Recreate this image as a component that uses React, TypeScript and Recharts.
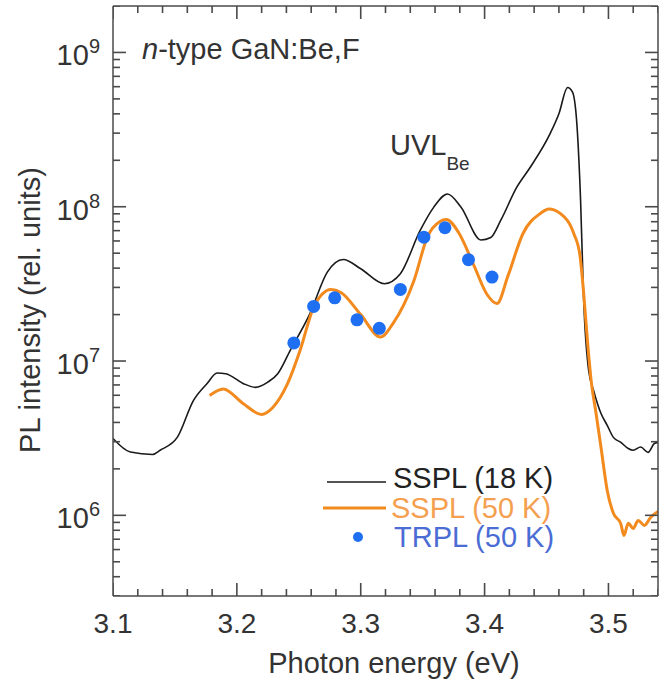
import React from "react";
import { ComposedChart, Line, Scatter, XAxis, YAxis } from "recharts";

// Steady-state PL at 18 K
const ssplEnergy18K = [
  3.1, 3.114, 3.132, 3.138, 3.152, 3.165, 3.176, 3.184, 3.191, 3.205, 3.215, 3.225,
  3.233, 3.243, 3.259, 3.273, 3.286, 3.3, 3.319, 3.332, 3.348, 3.359, 3.37, 3.381,
  3.397, 3.405, 3.413, 3.426, 3.437, 3.453, 3.46, 3.467, 3.471, 3.475, 3.4775, 3.48,
  3.484, 3.488, 3.494, 3.499, 3.504, 3.51, 3.516, 3.52, 3.526, 3.532, 3.537, 3.54,
];
const ssplIntensity18K = [
  3.15e6, 2.57e6, 2.48e6, 2.64e6, 3.21e6, 5.56e6, 7.16e6, 8.37e6, 8.28e6, 7.16e6, 6.75e6, 7.3e6,
  8.28e6, 1.17e7, 2.03e7, 3.77e7, 4.55e7, 3.96e7, 3.17e7, 3.68e7, 7.02e7, 9.94e7, 1.21e8, 9.94e7,
  6.09e7, 6.32e7, 8.15e7, 1.34e8, 1.81e8, 2.99e8, 4.01e8, 5.93e8, 5.53e8, 2.99e8, 1.1e8, 2.47e7,
  8.69e6, 6.45e6, 4.57e6, 3.83e6, 3.2e6, 2.97e6, 2.71e6, 2.64e6, 2.77e6, 2.56e6, 2.92e6, 2.97e6,
];

// Steady-state PL at 50 K
const ssplEnergy50K = [
  3.178, 3.189, 3.205, 3.22, 3.229, 3.241, 3.251, 3.262, 3.276, 3.284, 3.3, 3.316,
  3.326, 3.343, 3.354, 3.364, 3.369, 3.379, 3.391, 3.402, 3.41, 3.419, 3.431, 3.445,
  3.452, 3.461, 3.472, 3.477, 3.48, 3.483, 3.486, 3.49, 3.494, 3.499, 3.504, 3.51,
  3.5125, 3.516, 3.52, 3.524, 3.529, 3.534, 3.54,
];
const ssplIntensity50K = [
  5.98e6, 6.59e6, 5.31e6, 4.51e6, 5.0e6, 7.16e6, 1.17e7, 2.23e7, 2.91e7, 2.78e7, 2.0e7, 1.43e7,
  1.75e7, 3.33e7, 6.42e7, 8.03e7, 8.27e7, 6.81e7, 4.23e7, 2.7e7, 2.36e7, 3.59e7, 6.71e7, 9.05e7,
  9.68e7, 9.05e7, 6.71e7, 4.83e7, 2.74e7, 1.36e7, 7.49e6, 4.57e6, 2.75e6, 1.45e6, 1.03e6, 8.8e5,
  7.41e5, 8.87e5, 8.22e5, 9.27e5, 8.6e5, 9.69e5, 1.06e6,
];

// Time-resolved PL at 50 K
const trplEnergy = [3.246, 3.262, 3.279, 3.297, 3.315, 3.332, 3.351, 3.368, 3.387, 3.406];
const trplIntensity = [1.31e7, 2.26e7, 2.57e7, 1.85e7, 1.63e7, 2.91e7, 6.35e7, 7.31e7, 4.54e7, 3.5e7];

// Axis ticks
const xMajorTicks = [3.1, 3.2, 3.3, 3.4, 3.5];
const xMinorTicks = [
  3.12, 3.14, 3.16, 3.18, 3.22, 3.24, 3.26, 3.28, 3.32, 3.34, 3.36, 3.38,
  3.42, 3.44, 3.46, 3.48, 3.52, 3.54,
];
const yMajorTicks = [1e6, 1e7, 1e8, 1e9];
const yMinorTicks = [
  3e5, 4e5, 5e5, 6e5, 7e5, 8e5, 9e5,
  2e6, 3e6, 4e6, 5e6, 6e6, 7e6, 8e6, 9e6,
  2e7, 3e7, 4e7, 5e7, 6e7, 7e7, 8e7, 9e7,
  2e8, 3e8, 4e8, 5e8, 6e8, 7e8, 8e8, 9e8,
  2e9,
];

const X_DOMAIN: [number, number] = [3.1, 3.54];
const Y_DOMAIN: [number, number] = [3e5, 2e9];

const toPoints = (e: number[], v: number[]) => e.map((x, k) => ({ e: x, i: v[k] }));
const data18K = toPoints(ssplEnergy18K, ssplIntensity18K);
const data50K = toPoints(ssplEnergy50K, ssplIntensity50K);
const dataTRPL = toPoints(trplEnergy, trplIntensity);

const W = 661;
const H = 682;
const PLOT_TOP = 6;
const PLOT_RIGHT = 658;
const PLOT_LEFT = 113;
const PLOT_BOTTOM = 596;
const MAJOR_LEN = 13;
const MINOR_LEN = 7;

const AXIS = "#4a4a4a";
const TEXT = "#333";
const FONT = "'Liberation Sans', Arial, Helvetica, sans-serif";
const BLACK = "#1a1a1a";
const ORANGE = "#f28a1e";
const BLUE = "#1f6ff2";

// Tick-mark anchors on each side of the frame, placed through the chart scales.
type TickMark = { e: number; i: number; len: number };
const mark = (e: number, i: number, major: boolean): TickMark => ({ e, i, len: major ? MAJOR_LEN : MINOR_LEN });
const bottomMarks = [
  ...xMajorTicks.map((v) => mark(v, Y_DOMAIN[0], true)),
  ...xMinorTicks.map((v) => mark(v, Y_DOMAIN[0], false)),
];
const topMarks = [
  ...xMajorTicks.map((v) => mark(v, Y_DOMAIN[1], true)),
  ...xMinorTicks.map((v) => mark(v, Y_DOMAIN[1], false)),
];
const leftMarks = [
  ...yMajorTicks.map((v) => mark(X_DOMAIN[0], v, true)),
  ...yMinorTicks.map((v) => mark(X_DOMAIN[0], v, false)),
];
const rightMarks = [
  ...yMajorTicks.map((v) => mark(X_DOMAIN[1], v, true)),
  ...yMinorTicks.map((v) => mark(X_DOMAIN[1], v, false)),
];

const markShape = (dx: number, dy: number) => (p: any) => {
  const len = p.payload?.len ?? MINOR_LEN;
  return (
    <line
      x1={p.cx}
      y1={p.cy}
      x2={p.cx + dx * len}
      y2={p.cy + dy * len}
      stroke={AXIS}
      strokeWidth={1.6}
    />
  );
};

function renderBottomLabel(props: any) {
  const { x, payload, index } = props;
  return (
    <text key={`b-${index}`} x={x} y={PLOT_BOTTOM + 37} textAnchor="middle" fontSize={28} fill={TEXT} fontFamily={FONT}>
      {payload.value.toFixed(1)}
    </text>
  );
}

function renderLeftLabel(props: any) {
  const { y, payload, index } = props;
  const exp = Math.round(Math.log10(payload.value));
  return (
    <text key={`l-${index}`} x={PLOT_LEFT - 13} y={y + 13} textAnchor="end" fontSize={29} fill={TEXT} fontFamily={FONT}>
      10
      <tspan dy={-12} fontSize={20}>{exp}</tspan>
    </text>
  );
}

const Dot = (p: any) => <circle cx={p.cx} cy={p.cy} r={6.5} fill={BLUE} />;

export default function App() {
  return (
    <div style={{ position: "absolute", left: 0, top: 0, width: W, height: H, background: "#fff", fontFamily: FONT }}>
      <ComposedChart width={W} height={H} margin={{ top: PLOT_TOP - 1, right: W - PLOT_RIGHT - 1, bottom: 0, left: 0 }}>
        <XAxis
          xAxisId="b"
          dataKey="e"
          type="number"
          domain={X_DOMAIN}
          allowDataOverflow
          ticks={xMajorTicks}
          interval={0}
          tick={renderBottomLabel}
          tickLine={false}
          axisLine={{ stroke: AXIS, strokeWidth: 1.5 }}
          height={H - PLOT_BOTTOM}
        />
        <XAxis
          xAxisId="t"
          orientation="top"
          dataKey="e"
          type="number"
          domain={X_DOMAIN}
          allowDataOverflow
          tick={false}
          tickLine={false}
          axisLine={{ stroke: AXIS, strokeWidth: 1.5 }}
          height={1}
        />
        <YAxis
          yAxisId="l"
          dataKey="i"
          type="number"
          scale="log"
          domain={Y_DOMAIN}
          allowDataOverflow
          ticks={yMajorTicks}
          interval={0}
          tick={renderLeftLabel}
          tickLine={false}
          axisLine={{ stroke: AXIS, strokeWidth: 1.5 }}
          width={PLOT_LEFT}
        />
        <YAxis
          yAxisId="r"
          orientation="right"
          dataKey="i"
          type="number"
          scale="log"
          domain={Y_DOMAIN}
          allowDataOverflow
          tick={false}
          tickLine={false}
          axisLine={{ stroke: AXIS, strokeWidth: 1.5 }}
          width={1}
        />

        {/* inward tick marks on all four sides */}
        <Scatter xAxisId="b" yAxisId="l" data={bottomMarks} dataKey="i" shape={markShape(0, -1)} isAnimationActive={false} legendType="none" />
        <Scatter xAxisId="b" yAxisId="l" data={topMarks} dataKey="i" shape={markShape(0, 1)} isAnimationActive={false} legendType="none" />
        <Scatter xAxisId="b" yAxisId="l" data={leftMarks} dataKey="i" shape={markShape(1, 0)} isAnimationActive={false} legendType="none" />
        <Scatter xAxisId="b" yAxisId="l" data={rightMarks} dataKey="i" shape={markShape(-1, 0)} isAnimationActive={false} legendType="none" />

        <Line
          xAxisId="b"
          yAxisId="l"
          data={data18K}
          dataKey="i"
          type="monotone"
          stroke={BLACK}
          strokeWidth={1.6}
          dot={false}
          isAnimationActive={false}
        />
        <Line
          xAxisId="b"
          yAxisId="l"
          data={data50K}
          dataKey="i"
          type="monotone"
          stroke={ORANGE}
          strokeWidth={3}
          dot={false}
          isAnimationActive={false}
        />
        <Scatter
          xAxisId="b"
          yAxisId="l"
          data={dataTRPL}
          dataKey="i"
          fill={BLUE}
          shape={<Dot />}
          isAnimationActive={false}
        />

        {/* annotations */}
        <text x={142} y={59} fontSize={29} fill={TEXT} fontFamily={FONT}>
          <tspan fontStyle="italic">n</tspan>-type GaN:Be,F
        </text>
        <text x={390} y={155} fontSize={29} fill={TEXT} fontFamily={FONT}>
          UVL
          <tspan dy={15} fontSize={19}>Be</tspan>
        </text>
        <text
          x={40}
          y={310}
          transform="rotate(-90 40 310)"
          textAnchor="middle"
          fontSize={29}
          fill={TEXT}
          fontFamily={FONT}
        >
          PL intensity (rel. units)
        </text>
        <text x={394} y={673} textAnchor="middle" fontSize={29} fill={TEXT} fontFamily={FONT}>
          Photon energy (eV)
        </text>

        {/* legend */}
        <line x1={327} x2={386} y1={482} y2={482} stroke={BLACK} strokeWidth={1.6} />
        <text x={393} y={488} fontSize={29} fill="#222" fontFamily={FONT}>SSPL (18 K)</text>
        <line x1={323} x2={386} y1={508} y2={508} stroke={ORANGE} strokeWidth={3} />
        <text x={391} y={518} fontSize={29} fill="#f4a050" fontFamily={FONT}>SSPL (50 K)</text>
        <circle cx={358} cy={537} r={5} fill={BLUE} />
        <text x={394} y={547} fontSize={29} fill="#4a6cd4" fontFamily={FONT}>TRPL (50 K)</text>
      </ComposedChart>
    </div>
  );
}
